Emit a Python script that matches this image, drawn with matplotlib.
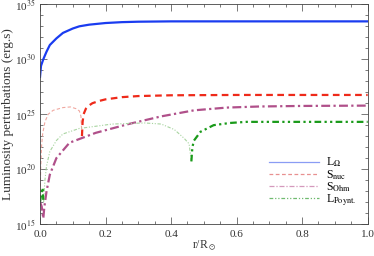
import numpy as np
import matplotlib.pyplot as plt
from matplotlib.ticker import MultipleLocator, FixedLocator, FixedFormatter, NullFormatter

# radius (r/Rsun) and log10 of the luminosity perturbations
r_omega = [0.0, 0.003, 0.01, 0.02, 0.03, 0.05, 0.07, 0.1, 0.12, 0.15, 0.2, 0.25, 0.3, 0.4, 0.6, 1.0]
l_omega = [28.4, 29.4, 30.0, 30.7, 31.3, 31.9, 32.4, 32.8, 33.0, 33.15, 33.3, 33.38, 33.42, 33.45, 33.45, 33.45]

# S_nuc: thin (negative) branch and thick (positive) branch
r_nuc_neg = [0.0, 0.002, 0.005, 0.008, 0.015, 0.025, 0.04, 0.07, 0.093, 0.11, 0.12, 0.125, 0.128]
l_nuc_neg = [17.4, 20.0, 22.2, 23.2, 24.3, 25.0, 25.35, 25.6, 25.66, 25.5, 25.3, 24.8, 23.0]
r_nuc_pos = [0.128, 0.13, 0.133, 0.14, 0.15, 0.16, 0.18, 0.2, 0.25, 0.3, 0.4, 0.6, 1.0]
l_nuc_pos = [23.0, 24.3, 25.0, 25.5, 25.8, 26.0, 26.2, 26.35, 26.55, 26.65, 26.72, 26.75, 26.75]

r_ohm = [0.0, 0.005, 0.01, 0.013, 0.02, 0.03, 0.05, 0.09, 0.17, 0.27, 0.37, 0.47, 0.57, 0.67, 0.8, 1.0]
l_ohm = [17.0, 16.6, 15.5, 16.5, 18.0, 19.5, 21.0, 22.4, 23.3, 24.1, 24.8, 25.35, 25.6, 25.7, 25.75, 25.78]

# L_Poynt: thick parts and thin part
r_poy_a = [0.0, 0.004, 0.008, 0.010]
l_poy_a = [17.0, 17.8, 18.3, 17.2]
r_poy_thin = [0.011, 0.015, 0.02, 0.03, 0.05, 0.07, 0.12, 0.22, 0.32, 0.37, 0.41, 0.44, 0.455, 0.462]
l_poy_thin = [17.0, 19.0, 20.3, 21.6, 22.6, 23.2, 23.7, 24.1, 24.2, 24.1, 23.6, 22.8, 22.3, 20.7]
r_poy_b = [0.462, 0.465, 0.47, 0.49, 0.53, 0.58, 0.63, 0.8, 1.0]
l_poy_b = [20.7, 22.0, 22.6, 23.4, 24.0, 24.2, 24.3, 24.3, 24.3]

labels = [r'L$_\Omega$', r'S$_{\rm nuc}$', r'S$_{\rm Ohm}$', r'L$_{\rm Poynt.}$']
y_major = [15, 20, 25, 30, 35]
x_major = [0.0, 0.2, 0.4, 0.6, 0.8, 1.0]

plt.rcParams['font.family'] = ['Liberation Serif', 'DejaVu Serif']
plt.rcParams['mathtext.fontset'] = 'stix'

fig = plt.figure(figsize=(3.74, 2.56), dpi=100)
ax = fig.add_axes([0.107, 0.125, 0.876, 0.858])

def p(x, lg, **kw):
    return ax.plot(x, 10.0 ** np.array(lg), **kw)

c_blue, c_red, c_pink = '#1a3cf0', '#ee2a1a', '#f0a8a0'
c_mag, c_green, c_lgreen = '#b0508a', '#1a9a1a', '#a8d4a0'
ls_dash = (0, (3, 2))
ls_dd = (0, (4, 1.5, 1, 1.5))
ls_ddd = (0, (3, 1.5, 1, 1.5, 1, 1.5))

p(r_omega, l_omega, color=c_blue, lw=1.6)
p(r_nuc_neg, l_nuc_neg, color=c_pink, lw=0.8, ls=ls_dash)
p(r_nuc_pos, l_nuc_pos, color=c_red, lw=1.6, ls=ls_dash)
p(r_ohm, l_ohm, color=c_mag, lw=1.6, ls=ls_dd)
p(r_poy_thin, l_poy_thin, color=c_lgreen, lw=0.8, ls=ls_ddd)
p(r_poy_a, l_poy_a, color=c_green, lw=1.6, ls=ls_ddd)
p(r_poy_b, l_poy_b, color=c_green, lw=1.6, ls=ls_ddd)

# legend handles (thin, light)
h = [
    ax.plot([], [], color='#8a9cf4', lw=0.9)[0],
    ax.plot([], [], color='#e89090', lw=0.9, ls=ls_dash)[0],
    ax.plot([], [], color='#d498bc', lw=0.9, ls=ls_dd)[0],
    ax.plot([], [], color='#70bb70', lw=0.9, ls=ls_ddd)[0],
]
ax.legend(h, labels, loc='lower right', frameon=False, fontsize=8.5,
          handlelength=4.2, labelspacing=-0.1, handletextpad=0.6,
          borderpad=0.1, bbox_to_anchor=(0.985, 0.04))

ax.set_yscale('log')
ax.set_xlim(0, 1.0)
ax.set_ylim(1e15, 1e35)
ax.xaxis.set_major_locator(FixedLocator(x_major))
ax.xaxis.set_minor_locator(MultipleLocator(0.05))
ax.xaxis.set_major_formatter(FixedFormatter([f'{v:.1f}' for v in x_major]))
ax.yaxis.set_major_locator(FixedLocator([10.0 ** k for k in y_major]))
ax.yaxis.set_major_formatter(FixedFormatter([r'10$^{%d}$' % k for k in y_major]))
ax.yaxis.set_minor_locator(FixedLocator([10.0 ** k for k in range(15, 36)]))
ax.yaxis.set_minor_formatter(NullFormatter())
ax.tick_params(which='both', direction='in', top=True, right=True, labelsize=8,
               width=0.5, colors='#444444', labelcolor='#333333')
ax.tick_params(which='major', length=5)
ax.tick_params(which='minor', length=2.5)
ax.tick_params(axis='x', pad=4)
ax.tick_params(axis='y', pad=3)
for s in ax.spines.values():
    s.set_linewidth(0.6)
    s.set_color('#444444')

ax.set_xlabel(r'r/R$_\odot$', fontsize=8.5, color='#333333', labelpad=0)
ax.set_ylabel('Luminosity perturbations (erg.s)', fontsize=9.5, color='#333333', labelpad=1)

fig.savefig('out.png', dpi=100)
